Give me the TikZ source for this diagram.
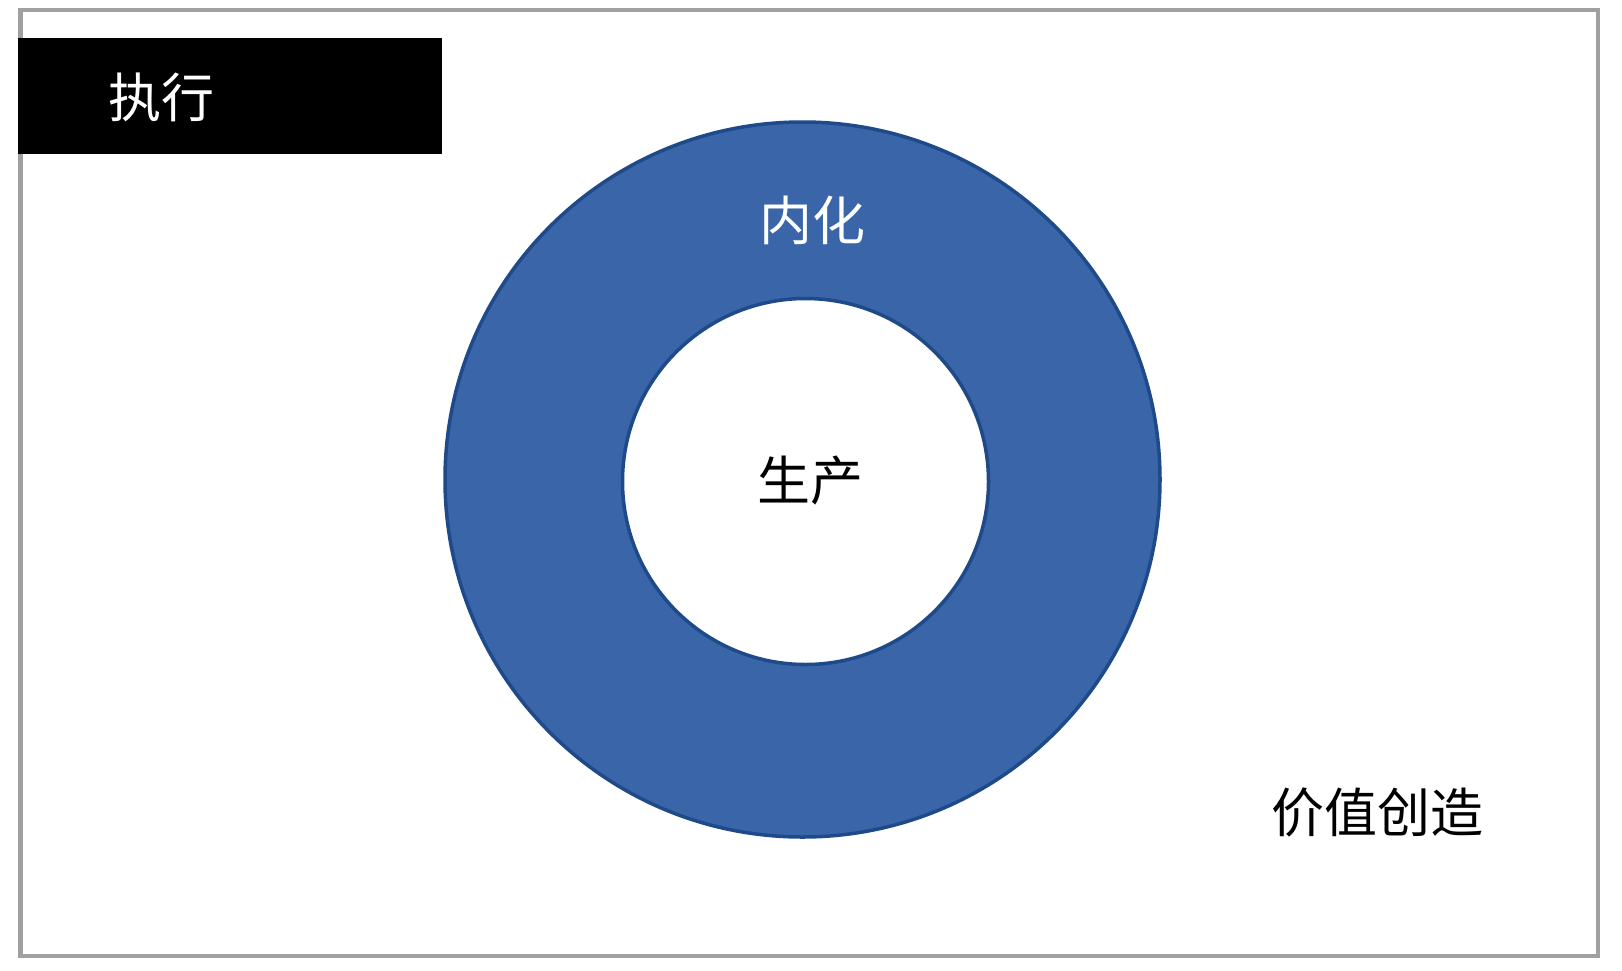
\documentclass[tikz,border=0pt]{standalone}
\usepackage{fontspec}
\newfontfamily\cjk{Noto Sans CJK SC}
\definecolor{ringfill}{HTML}{3A65A8}
\definecolor{ringedge}{HTML}{1E4A8A}
\definecolor{framegray}{HTML}{A0A0A0}
\begin{document}
\begin{tikzpicture}[x=1pt,y=-1pt,
  label/.style={inner sep=0pt,font=\cjk\fontsize{53}{60}\selectfont}]
\useasboundingbox (0,0) rectangle (1622,970);
\fill[white] (0,0) rectangle (1622,970);
\draw[framegray,line width=4.5pt] (20.5,10) rectangle (1598,956);
\fill[black] (18,38) rectangle (442,154);
\fill[ringfill,even odd rule,draw=ringedge,line width=3.5pt]
  (802.5,479.5) circle[radius=357.5] (805.5,481.5) circle[radius=183];
\node[label,text=white] (exec) at (161,97) {执行};
\node[label,text=white] (intern) at (812,220) {内化};
\node[label,text=black] (prod) at (810,481) {生产};
\node[label,text=black] (value) at (1377,813) {价值创造};
\end{tikzpicture}
\end{document}
